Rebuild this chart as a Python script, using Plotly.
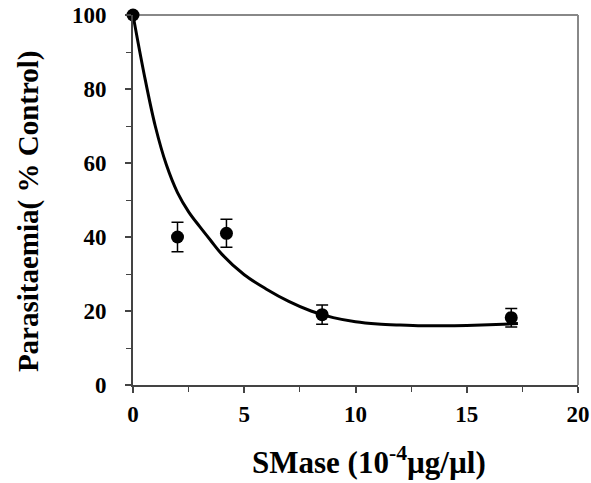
import plotly.graph_objects as go

# Measured data points
dose = [0, 2, 4.2, 8.5, 17]
parasitaemia = [100, 40, 41, 19, 18.2]
err = [0, 4, 3.8, 2.6, 2.5]

# Fitted curve
fit_x = [0, 0.5, 1, 1.5, 2, 2.5, 3, 3.5, 4, 5, 6, 7, 8, 9, 10, 11, 12, 13, 14, 15, 16, 17.3]
fit_y = [100, 84, 70, 59.5, 52, 46.8, 42.8, 39.0, 35.3, 29.8, 25.9, 22.6, 20.0, 18.2, 17.1, 16.5, 16.2, 16.0, 16.0, 16.1, 16.3, 16.6]

x_ticks = [0, 5, 10, 15, 20]
y_ticks = [0, 20, 40, 60, 80, 100]

x_title = "SMase (10<sup>-4</sup>µg/µl)"
y_title = "Parasitaemia( % Control)"

FONT = "Liberation Serif"

fig = go.Figure()
fig.add_trace(go.Scatter(
    x=fit_x, y=fit_y, mode="lines",
    line=dict(color="black", width=3, shape="spline", smoothing=1.0),
    hoverinfo="skip", cliponaxis=False,
))
fig.add_trace(go.Scatter(
    x=dose, y=parasitaemia, mode="markers",
    marker=dict(color="black", size=13),
    error_y=dict(type="data", array=err, color="black", thickness=1.5, width=6, visible=True),
    cliponaxis=False,
))

axis_common = dict(
    showgrid=False, zeroline=False, showline=True, linecolor="#444", linewidth=2,
    ticks="outside", ticklen=6, tickwidth=1.5, tickcolor="#444",
    tickfont=dict(family=FONT, size=23, color="black", weight="bold"),
    automargin=False,
)

fig.update_xaxes(
    range=[0, 20], tickvals=x_ticks, ticktext=[str(v) for v in x_ticks],
    minor=dict(ticks="outside", dtick=2.5, tick0=0, ticklen=5, tickcolor="#444", tickwidth=1),
    ticklabelstandoff=1,
    **axis_common,
)
fig.update_yaxes(
    range=[0, 100], tickvals=y_ticks, ticktext=[str(v) for v in y_ticks],
    minor=dict(ticks="outside", dtick=10, tick0=0, ticklen=5, tickcolor="#444", tickwidth=1),
    ticklabelstandoff=14,
    **axis_common,
)

# axis titles
fig.add_annotation(text=x_title, xref="paper", yref="paper", x=0.530, y=-0.205,
                   xanchor="center", yanchor="middle", showarrow=False,
                   font=dict(family=FONT, size=31, color="black", weight="bold"))
fig.add_annotation(text=y_title, xref="paper", yref="paper", x=0, y=0.470,
                   xshift=-105, textangle=-90,
                   xanchor="center", yanchor="middle", showarrow=False,
                   font=dict(family=FONT, size=29, color="black", weight="bold"))

# top and right frame lines (lighter gray)
fig.add_shape(type="line", xref="paper", yref="paper", x0=0, x1=1, y0=1, y1=1,
              line=dict(color="#888", width=2), layer="below")
fig.add_shape(type="line", xref="paper", yref="paper", x0=1, x1=1, y0=0, y1=1,
              line=dict(color="#888", width=2), layer="below")

fig.update_layout(
    width=591, height=483,
    margin=dict(l=133, r=13, t=15, b=98),
    plot_bgcolor="white", paper_bgcolor="white",
    showlegend=False,
)

# remove the default page margin so the figure fills the window exactly
fig.write_html(
    "out.html",
    config={"displayModeBar": False},
    post_script="document.body.style.margin='0';document.body.style.overflow='hidden';",
)
